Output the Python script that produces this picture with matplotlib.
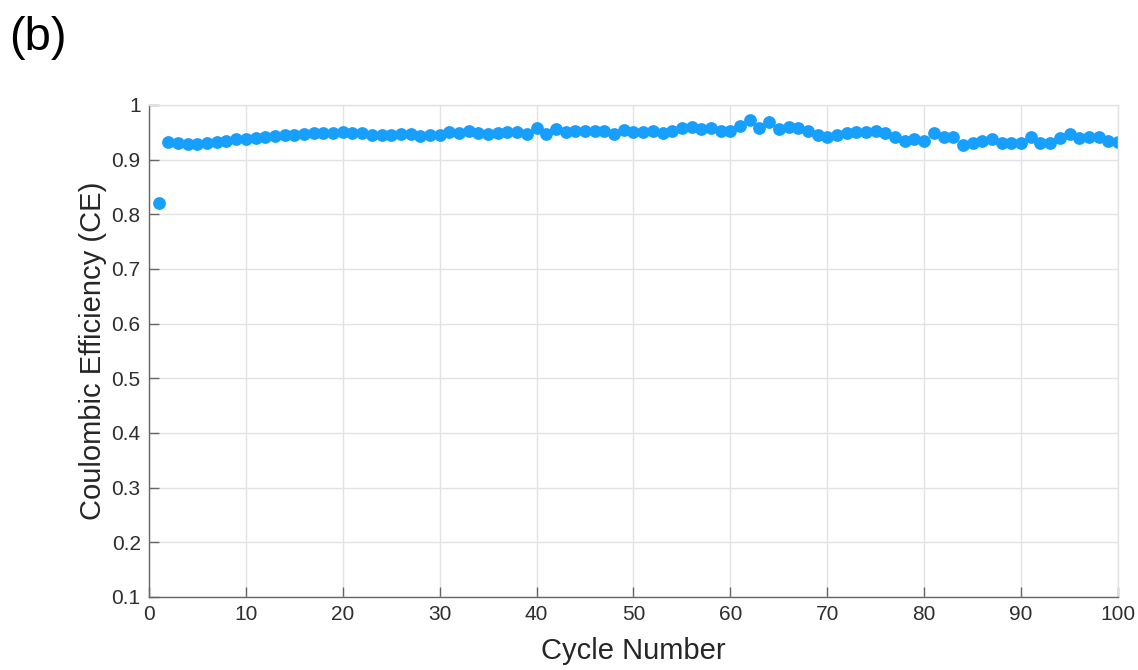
import matplotlib
matplotlib.use('Agg')
import matplotlib.pyplot as plt
import numpy as np

plt.rcParams['font.family'] = ['Liberation Sans', 'DejaVu Sans']

# coulombic efficiency per cycle
cycles = np.arange(1, 101)
ce = [0.820, 0.932, 0.930, 0.928, 0.928, 0.930, 0.932, 0.934, 0.937, 0.938,
      0.940, 0.942, 0.943, 0.946, 0.946, 0.947, 0.948, 0.948, 0.948, 0.951,
      0.949, 0.949, 0.946, 0.945, 0.946, 0.947, 0.947, 0.944, 0.945, 0.945,
      0.950, 0.948, 0.953, 0.948, 0.947, 0.948, 0.951, 0.951, 0.947, 0.958,
      0.947, 0.956, 0.951, 0.952, 0.952, 0.953, 0.952, 0.947, 0.955, 0.951,
      0.951, 0.953, 0.948, 0.953, 0.957, 0.959, 0.956, 0.957, 0.952, 0.952,
      0.962, 0.973, 0.957, 0.968, 0.956, 0.960, 0.957, 0.952, 0.945, 0.942,
      0.945, 0.948, 0.951, 0.951, 0.953, 0.948, 0.941, 0.935, 0.937, 0.935,
      0.948, 0.942, 0.942, 0.927, 0.931, 0.934, 0.938, 0.931, 0.931, 0.931,
      0.941, 0.931, 0.930, 0.940, 0.947, 0.940, 0.942, 0.941, 0.934, 0.932]
xticks = np.arange(0, 101, 10)
yticks = np.round(np.arange(0.1, 1.01, 0.1), 1)
ytick_labels = ['0.1', '0.2', '0.3', '0.4', '0.5', '0.6', '0.7', '0.8', '0.9', '1']

fig = plt.figure(figsize=(11.38, 6.70), dpi=100)
ax = fig.add_axes([0.1309, 0.109, 0.8515, 0.7343])

ax.plot(cycles, ce, 'o', color='#169ffd', markersize=9.2, markeredgewidth=0)

ax.set_xlim(0, 100)
ax.set_ylim(0.1, 1.0)
ax.set_xticks(xticks)
ax.set_yticks(yticks)
ax.set_yticklabels(ytick_labels)
ax.grid(True, color='#e3e3e3', linewidth=1.0)
ax.set_axisbelow(True)
ax.tick_params(direction='in', labelsize=15, labelcolor='#2e2e2e', color='#666666',
               length=7, width=1.0, pad=6)
for s in ['left', 'bottom']:
    ax.spines[s].set_color('#666666')
    ax.spines[s].set_linewidth(1.0)
for s in ['top', 'right']:
    ax.spines[s].set_color('#e3e3e3')
    ax.spines[s].set_linewidth(1.0)

ax.set_xlabel('Cycle Number', fontsize=21, color='#262626', labelpad=9)
ax.set_ylabel('Coulombic Efficiency (CE)', fontsize=21, color='#262626', labelpad=3)

fig.text(0.008, 0.943, '(b)', fontsize=34, va='center', ha='left')
# heading cut off at the top edge in the reference
fig.text(0.592, 1.028, '(mAh g)', fontsize=24, va='center', ha='center', color='#262626')

fig.savefig('out.png', dpi=100)
